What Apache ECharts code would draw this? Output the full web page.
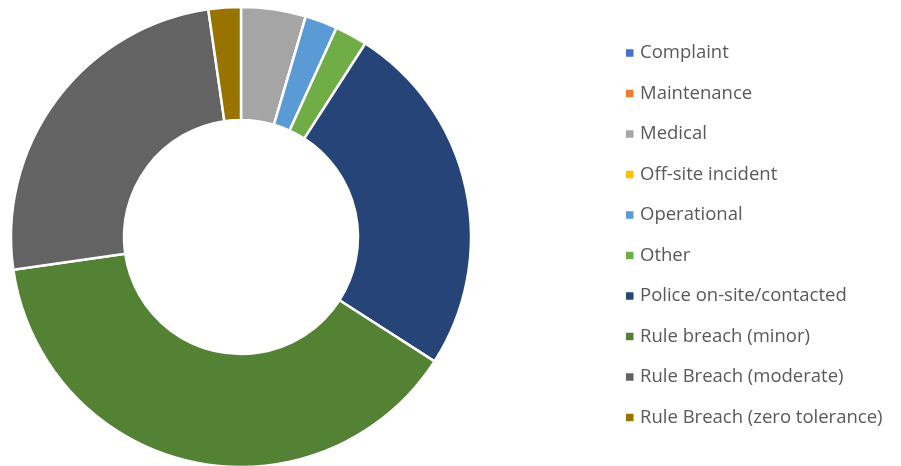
<!DOCTYPE html>
<html>
<head>
<meta charset="utf-8">
<script src="https://cdn.jsdelivr.net/npm/echarts@6/dist/echarts.min.js"></script>
<style>html,body{margin:0;padding:0;background:#fff}#c{width:901px;height:466px}</style>
</head>
<body>
<div id="c"></div>
<script>
const categories = ["Complaint","Maintenance","Medical","Off-site incident","Operational","Other","Police on-site/contacted","Rule breach (minor)","Rule Breach (moderate)","Rule Breach (zero tolerance)"];
const values = [0,0,2,0,1,1,11,17,11,1];
const colors = ["#4472C4","#ED7D31","#A5A5A5","#FFC000","#5B9BD5","#70AD47","#264478","#548235","#636363","#997300"];

const chart = echarts.init(document.getElementById('c'));
chart.setOption({
  animation: false,
  color: colors,
  legend: {
    orient: 'vertical',
    left: 626,
    top: 43,
    padding: 0,
    icon: 'rect',
    itemWidth: 7.5,
    itemHeight: 7.5,
    itemGap: 20.5,
    itemStyle: { borderWidth: 0 },
    textStyle: { fontFamily: 'Open Sans', fontSize: 18.5, color: '#595959', lineHeight: 20, padding: [0,0,0,1.5] },
    data: categories
  },
  series: [{
    type: 'pie',
    center: [241, 237],
    radius: [117, 230],
    startAngle: 90,
    clockwise: true,
    avoidLabelOverlap: false,
    label: { show: false },
    labelLine: { show: false },
    emphasis: { disabled: true },
    itemStyle: { borderColor: '#fff', borderWidth: 2.5 },
    data: categories.map((n, i) => ({ name: n, value: values[i] }))
  }]
});
</script>
</body>
</html>
